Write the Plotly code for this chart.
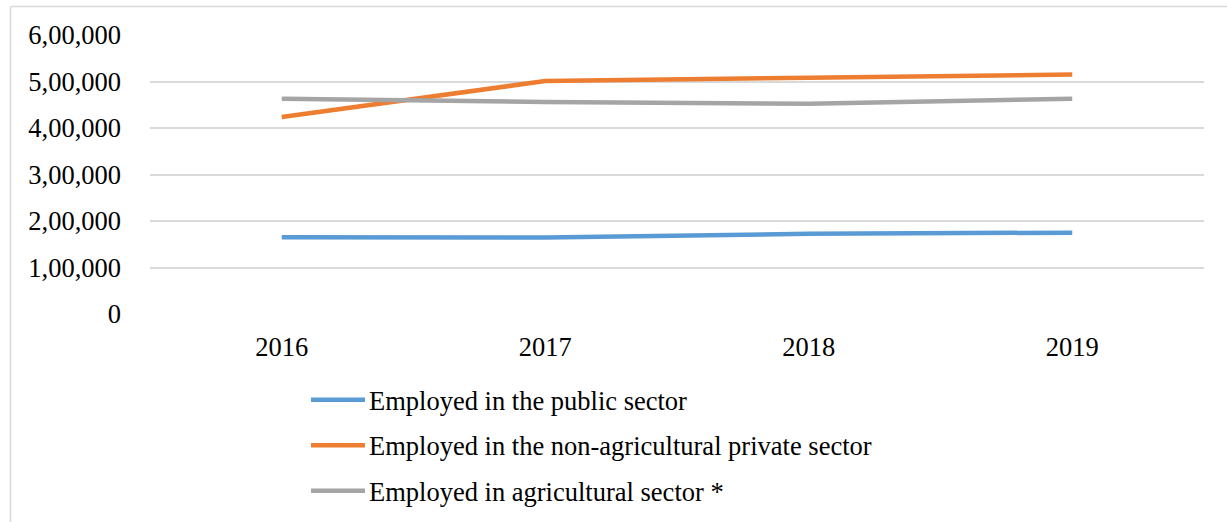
import plotly.graph_objects as go

years = ["2016", "2017", "2018", "2019"]
public_sector = [165000, 164500, 172500, 175000]
private_non_agri = [423500, 501000, 508000, 515000]
agricultural = [463000, 456000, 452000, 463000]

series_names = [
    "Employed in the public sector",
    "Employed in the non-agricultural private sector",
    "Employed in agricultural sector *",
]
series_colors = ["#5B9BD5", "#ED7D31", "#A5A5A5"]

y_tickvals = [0, 100000, 200000, 300000, 400000, 500000, 600000]
y_ticktext = ["0", "1,00,000", "2,00,000", "3,00,000", "4,00,000", "5,00,000", "6,00,000"]

FONT = "Liberation Serif, Times New Roman, serif"

W, H = 1227, 522
L, R, T, B = 150, 23, 34.5, 208
pw, ph = W - L - R, H - T - B

def px_x(p):
    return (p - L) / pw

def px_y(p):
    return (H - B - p) / ph

fig = go.Figure()
for name, vals, col in zip(series_names,
                           [public_sector, private_non_agri, agricultural],
                           series_colors):
    fig.add_trace(go.Scatter(
        x=years, y=vals, name=name, mode="lines",
        line=dict(color=col, width=4.5),
        showlegend=False,
    ))

# chart-area border: only top and left edges are visible in the frame
shapes = [
    dict(type="line", xref="paper", yref="paper",
         x0=px_x(10.5), x1=px_x(1240), y0=px_y(6), y1=px_y(6),
         line=dict(color="#D9D9D9", width=1.5), layer="below"),
    dict(type="line", xref="paper", yref="paper",
         x0=px_x(10.5), x1=px_x(10.5), y0=px_y(6), y1=px_y(540),
         line=dict(color="#D9D9D9", width=1.5), layer="below"),
]

# manual legend (line swatch + real text), stacked vertically
legend_rows_px = [400, 445.5, 491]
annotations = []
for name, col, ry in zip(series_names, series_colors, legend_rows_px):
    shapes.append(dict(
        type="line", xref="paper", yref="paper",
        x0=px_x(311), x1=px_x(365), y0=px_y(ry), y1=px_y(ry),
        line=dict(color=col, width=4.5),
    ))
    annotations.append(dict(
        xref="paper", yref="paper", x=px_x(367), y=px_y(ry + 1),
        xanchor="left", yanchor="middle", showarrow=False,
        text=name, font=dict(family=FONT, size=26.5, color="#000000"),
    ))

fig.update_layout(
    width=W, height=H,
    margin=dict(l=L, r=R, t=T, b=B, pad=0, autoexpand=False),
    paper_bgcolor="white", plot_bgcolor="white",
    font=dict(family=FONT, color="#000000", size=26.5),
    showlegend=False,
    xaxis=dict(
        type="category", range=[-0.5, 3.5],
        showgrid=False, zeroline=False, showline=False,
        ticks="", tickfont=dict(family=FONT, size=26.5, color="#000000"),
        ticklabelstandoff=14,
    ),
    yaxis=dict(
        range=[0, 600000],
        tickvals=y_tickvals, ticktext=y_ticktext,
        showgrid=True, gridcolor="#D9D9D9", gridwidth=1.5,
        zeroline=False, showline=False, ticks="",
        tickfont=dict(family=FONT, size=26.5, color="#000000"),
        ticklabelstandoff=28,
    ),
    shapes=shapes,
    annotations=annotations,
)

fig.write_html("out.html")
